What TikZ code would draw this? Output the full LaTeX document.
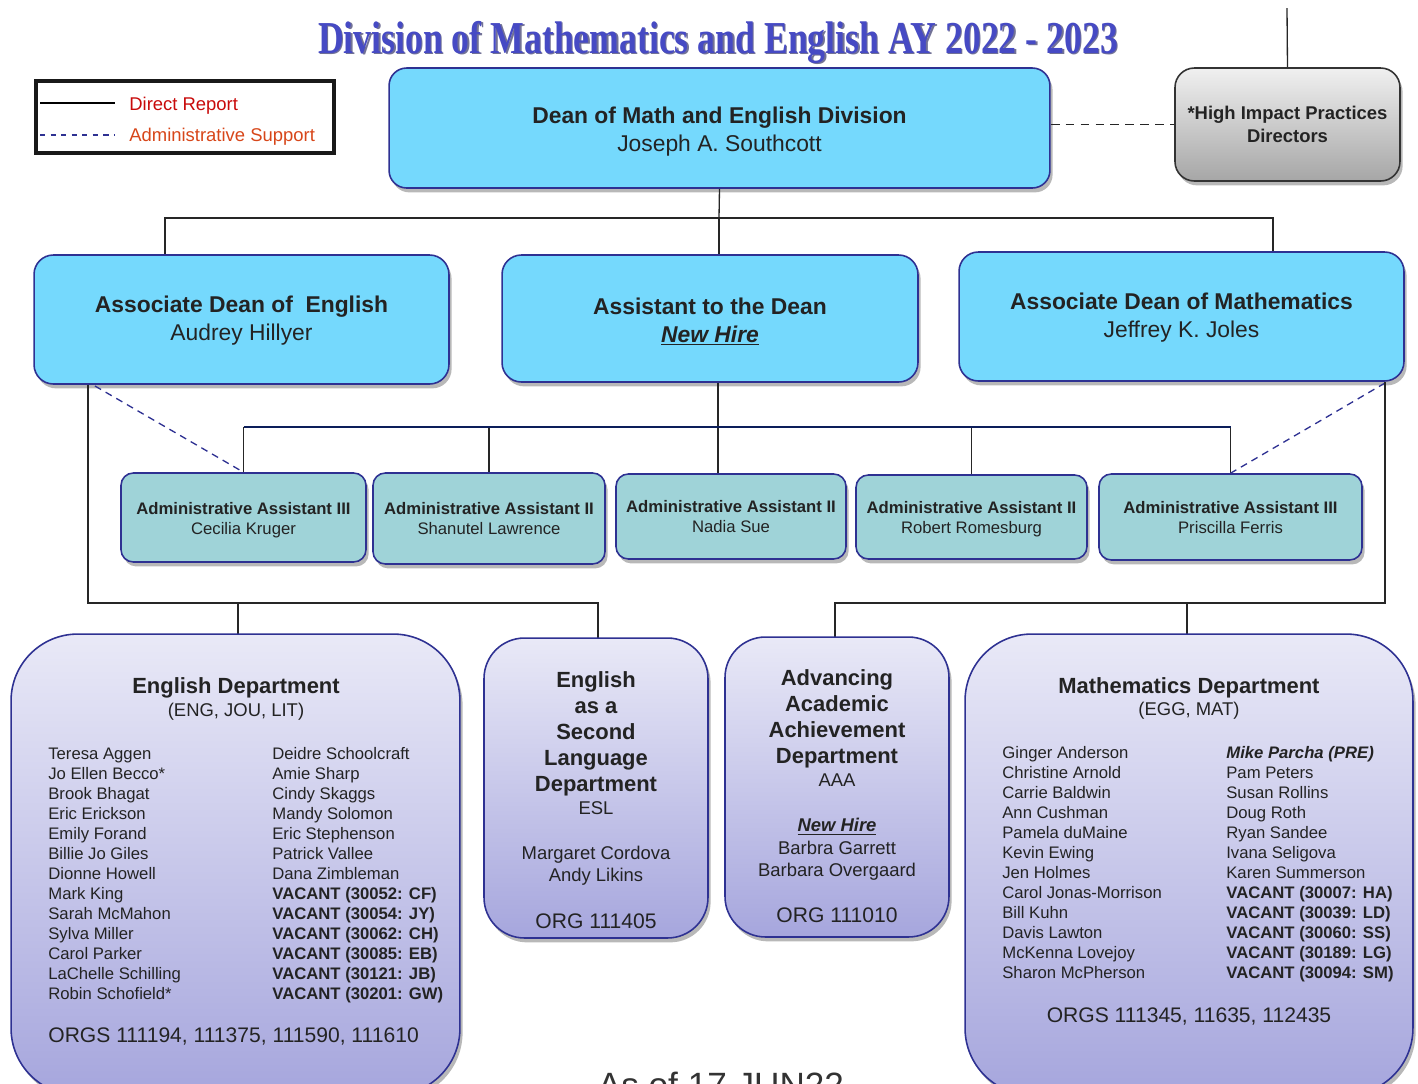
\documentclass[tikz,border=0pt]{standalone}
\usepackage{fontspec}
\setmainfont{Liberation Sans}
\newfontfamily\titlefont{Liberation Serif}
\usepackage{graphicx}
\usetikzlibrary{shadows, calc}

\definecolor{deanfill}{RGB}{117,217,253}
\definecolor{boxline}{RGB}{46,49,146}
\definecolor{aafill}{RGB}{159,211,216}
\definecolor{deptTop}{RGB}{233,233,247}
\definecolor{deptBot}{RGB}{166,166,221}
\definecolor{hipTop}{RGB}{240,240,240}
\definecolor{hipBot}{RGB}{166,166,166}
\definecolor{busNavy}{RGB}{12,30,90}
\definecolor{supportBlue}{RGB}{46,49,146}
\definecolor{legRed}{RGB}{200,10,10}
\definecolor{legOrange}{RGB}{215,70,25}
\definecolor{titleBlue}{RGB}{70,74,196}
\definecolor{titleShade}{RGB}{20,20,80}
\definecolor{inkText}{RGB}{35,35,35}

\begin{document}
\begin{tikzpicture}[
  x=0.02cm, y=-0.02cm,
  font=\fontsize{10.5}{12.6}\selectfont,
  text=inkText,
  boxshadow/.style={
    drop shadow={shadow xshift=1.5pt, shadow yshift=-2.5pt, opacity=0.28, fill=black}
  },
  topbox/.style={
    rounded corners=10pt, draw=boxline, line width=0.9pt, fill=deanfill,
    align=center, inner sep=0pt, font=\fontsize{13}{16}\selectfont, boxshadow
  },
  hipbox/.style={
    rounded corners=11pt, draw=black!80, line width=0.9pt,
    top color=hipTop, bottom color=hipBot,
    align=center, inner sep=0pt, font=\bfseries\fontsize{10.5}{13}\selectfont, boxshadow
  },
  aabox/.style={
    rounded corners=7pt, draw=boxline, line width=0.9pt, fill=aafill,
    align=center, inner sep=0pt, font=\fontsize{9.5}{11.4}\selectfont, boxshadow
  },
  deptbox/.style={
    draw=boxline, line width=0.9pt, top color=deptTop, bottom color=deptBot,
    inner sep=0pt, boxshadow
  },
  depthead/.style={anchor=base, inner sep=0pt, font=\bfseries\fontsize{12.5}{15}\selectfont},
  deptline/.style={anchor=base, inner sep=0pt, font=\fontsize{10.5}{12.6}\selectfont},
  orgline/.style={anchor=base, inner sep=0pt, font=\fontsize{12}{14}\selectfont},
  namerow/.style={anchor=base west, inner sep=0pt, font=\fontsize{9.5}{11.4}\selectfont},
  link/.style={draw=black!85, line width=0.75pt},
  bus/.style={draw=busNavy, line width=1pt},
  support/.style={draw=supportBlue, line width=0.75pt, dash pattern=on 4pt off 3pt},
  hiplink/.style={draw=black!85, line width=1pt, dash pattern=on 5pt off 3.5pt}
]
\useasboundingbox (0,0) rectangle (1418,1083);

% ----- Title -----
\node[anchor=base, inner sep=0pt, text=titleShade!60] (titleShadow) at (719.5,54.5)
  {\resizebox{16cm}{\height}{\titlefont\bfseries\fontsize{26}{30}\selectfont Division of Mathematics and English AY 2022 - 2023}};
\node[anchor=base, inner sep=0pt, text=titleBlue] (title) at (718,53)
  {\resizebox{16cm}{\height}{\titlefont\bfseries\fontsize{26}{30}\selectfont Division of Mathematics and English AY 2022 - 2023}};

% ----- Legend -----
\node[draw=black!90, line width=2.3pt, minimum width=5.96cm, minimum height=1.44cm] (legend) at (185,117) {};
\coordinate (legA1) at (40,103);
\coordinate (legA2) at (115,103);
\coordinate (legB1) at (40,135);
\coordinate (legB2) at (115,135);
\draw[draw=black, line width=0.9pt] (legA1) -- (legA2);
\draw[support, dash pattern=on 3pt off 3pt] (legB1) -- (legB2);
\node[anchor=base west, inner sep=0pt, text=legRed] (legDirect) at (129,110) {Direct Report};
\node[anchor=base west, inner sep=0pt, text=legOrange] (legAdmin) at (129,141) {Administrative Support};

% ----- Connectors (drawn under the boxes) -----
\coordinate (hipUp) at (1287,8);
\coordinate (jTop) at (719,218);
\coordinate (jL) at (165,218);
\coordinate (jR) at (1273,218);
\coordinate (jA) at (718,427);
\coordinate (sEng) at (95,386);
\coordinate (sMath) at (1385,383);
\coordinate (jEL) at (88,603);
\coordinate (jEM) at (238,603);
\coordinate (jER) at (598,603);
\coordinate (jML) at (835,603);
\coordinate (jMM) at (1187,603);
\coordinate (jMR) at (1385,603);

% ----- Dean -----
\node[topbox, minimum width=13.22cm, minimum height=2.40cm] (dean) at (719.5,128)
  {\rule{0pt}{14pt}{\bfseries Dean of Math and English Division}\\Joseph A. Southcott};
\node[hipbox, minimum width=4.50cm, minimum height=2.26cm] (hip) at (1287.5,124.5)
  {*High Impact Practices\\Directors};
\draw[link] (hipUp) -- (hip.north);
\draw[hiplink] (dean.east |- hip.west) -- (hip.west);

\draw[link] (dean.south) -- (jTop);
\draw[link] (jL |- 0,255) -- (jL) -- (jR) -- (jR |- 0,252);
\draw[link] (jTop) -- (jTop |- 0,255);

% ----- Associate deans -----
\node[topbox, rounded corners=11pt, minimum width=8.30cm, minimum height=2.58cm] (adEng) at (241.5,319.5)
  {\rule{0pt}{10.7pt}{\bfseries Associate Dean of\ \ English}\\Audrey Hillyer};
\node[topbox, rounded corners=11pt, minimum width=8.32cm, minimum height=2.54cm] (asst) at (710,318.5)
  {\rule{0pt}{13pt}{\bfseries Assistant to the Dean}\\\textbf{\textit{\underline{New Hire}}}};
\node[topbox, rounded corners=11pt, minimum width=8.90cm, minimum height=2.58cm] (adMath) at (1181.5,316.5)
  {\rule{0pt}{10.7pt}{\bfseries Associate Dean of Mathematics}\\Jeffrey K. Joles};

% ----- Administrative assistants -----
\draw[link] (jA |- asst.south) -- (jA);
\node[aabox, minimum width=4.90cm, minimum height=1.78cm] (aa1) at (243.5,517.5)
  {\rule{0pt}{9.7pt}\textbf{Administrative Assistant III}\\Cecilia Kruger};
\node[aabox, minimum width=4.64cm, minimum height=1.82cm] (aa2) at (489,518.5)
  {\textbf{Administrative Assistant II}\\Shanutel Lawrence};
\node[aabox, minimum width=4.60cm, minimum height=1.70cm] (aa3) at (731,516.5)
  {\rule{0pt}{7.4pt}\textbf{Administrative Assistant II}\\Nadia Sue};
\node[aabox, minimum width=4.62cm, minimum height=1.68cm] (aa4) at (971.5,517)
  {\rule{0pt}{9.7pt}\textbf{Administrative Assistant II}\\Robert Romesburg};
\node[aabox, minimum width=5.26cm, minimum height=1.72cm] (aa5) at (1230.5,517)
  {\rule{0pt}{7.4pt}\textbf{Administrative Assistant III}\\Priscilla Ferris};
\foreach \a in {aa1,aa2,aa4,aa5}
  \draw[link] (\a.north |- jA) -- (\a.north);
\draw[link] (jA) -- (jA |- aa3.north);
\draw[bus] (aa1.north |- jA) -- (aa5.north |- jA);
\draw[support] (sEng) -- (aa1.north);
\draw[support] (sMath) -- (aa5.north);

% ----- Departments -----
\draw[link] (jEL |- adEng.south) -- (jEL) -- (jER) -- (jER |- 0,638);
\draw[link] (jEM) -- (jEM |- 0,634);
\draw[link] (jMR |- adMath.south) -- (jMR) -- (jML) -- (jML |- 0,637);
\draw[link] (jMM) -- (jMM |- 0,634);

\node[deptbox, rounded corners=38pt, minimum width=8.98cm, minimum height=9.22cm] (engDept) at (235.5,864.5) {};
\node[deptbox, rounded corners=23pt, minimum width=4.48cm, minimum height=6.00cm] (esl) at (596,788) {};
\node[deptbox, rounded corners=23pt, minimum width=4.48cm, minimum height=6.00cm] (aaa) at (837,787) {};
\node[deptbox, rounded corners=38pt, minimum width=8.96cm, minimum height=9.22cm] (mathDept) at (1189,864.5) {};

% English
\node[depthead] (engHead) at (236,693) {English Department};
\node[deptline] (engCodes) at (236,716.5) {(ENG, JOU, LIT)};
\foreach \nm [count=\i from 0] in {Teresa Aggen, Jo Ellen Becco*, Brook Bhagat, Eric Erickson,
    Emily Forand, Billie Jo Giles, Dionne Howell, Mark King, Sarah McMahon, Sylva Miller,
    Carol Parker, LaChelle Schilling, Robin Schofield*}
  \node[namerow] (engL\i) at (48,{759+20*\i}) {\nm};
\foreach \nm [count=\i from 0] in {Deidre Schoolcraft, Amie Sharp, Cindy Skaggs, Mandy Solomon,
    Eric Stephenson, Patrick Vallee, Dana Zimbleman, \textbf{VACANT (30052: CF)},
    \textbf{VACANT (30054: JY)}, \textbf{VACANT (30062: CH)}, \textbf{VACANT (30085: EB)},
    \textbf{VACANT (30121: JB)}, \textbf{VACANT (30201: GW)}}
  \node[namerow] (engR\i) at (272,{759+20*\i}) {\nm};
\node[orgline, anchor=base west] (engOrg) at (48,1042) {ORGS 111194, 111375, 111590, 111610};

% ESL
\foreach \ln [count=\i from 0] in {English, as a, Second, Language, Department}
  \node[depthead] (eslHead\i) at (596,{687+26*\i}) {\ln};
\node[deptline] (eslCode) at (596,814.5) {ESL};
\node[deptline] (eslP1) at (596,859.5) {Margaret Cordova};
\node[deptline] (eslP2) at (596,881.5) {Andy Likins};
\node[orgline] (eslOrg) at (596,928) {ORG 111405};

% AAA
\foreach \ln [count=\i from 0] in {Advancing, Academic, Achievement, Department}
  \node[depthead] (aaaHead\i) at (837,{685+26.3*\i}) {\ln};
\node[deptline] (aaaCode) at (837,786) {AAA};
\node[deptline] (aaaNew) at (837,831.5) {\textbf{\textit{\underline{New Hire}}}};
\node[deptline] (aaaP1) at (837,854.5) {Barbra Garrett};
\node[deptline] (aaaP2) at (837,876.5) {Barbara Overgaard};
\node[orgline] (aaaOrg) at (837,922) {ORG 111010};

% Mathematics
\node[depthead] (mathHead) at (1189,693) {Mathematics Department};
\node[deptline] (mathCodes) at (1189,715.5) {(EGG, MAT)};
\foreach \nm [count=\i from 0] in {Ginger Anderson, Christine Arnold, Carrie Baldwin, Ann Cushman,
    Pamela duMaine, Kevin Ewing, Jen Holmes, Carol Jonas-Morrison, Bill Kuhn, Davis Lawton,
    McKenna Lovejoy, Sharon McPherson}
  \node[namerow] (mathL\i) at (1002,{758+20*\i}) {\nm};
\foreach \nm [count=\i from 0] in {\textbf{\textit{Mike Parcha (PRE)}}, Pam Peters, Susan Rollins,
    Doug Roth, Ryan Sandee, Ivana Seligova, Karen Summerson, \textbf{VACANT (30007: HA)},
    \textbf{VACANT (30039: LD)}, \textbf{VACANT (30060: SS)}, \textbf{VACANT (30189: LG)},
    \textbf{VACANT (30094: SM)}}
  \node[namerow] (mathR\i) at (1226,{758+20*\i}) {\nm};
\node[orgline] (mathOrg) at (1189,1022) {ORGS 111345, 11635, 112435};

% ----- Date line (cut by the page edge) -----
\node[anchor=base, inner sep=0pt, text=black!80, font=\fontsize{20}{24}\selectfont] (asOf) at (721,1097) {As of 17 JUN22};

\end{tikzpicture}
\end{document}
